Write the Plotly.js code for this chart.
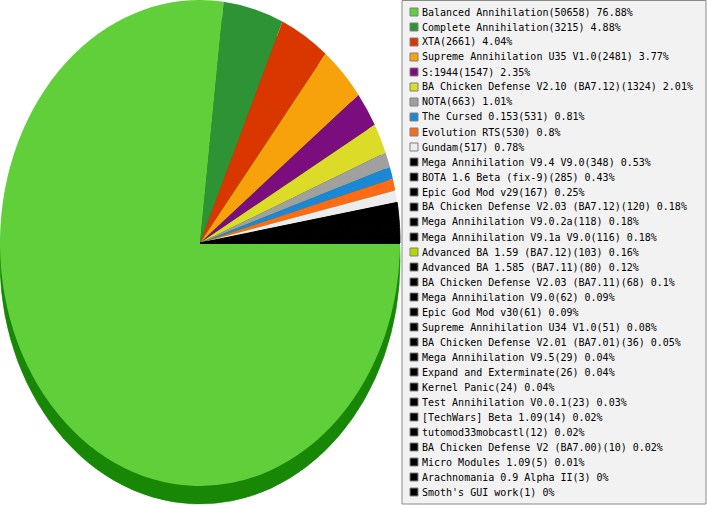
<!DOCTYPE html>
<html>
<head>
<meta charset="utf-8">
<script src="https://cdn.plot.ly/plotly-3.0.1.min.js"></script>
<style>html,body{margin:0;padding:0;background:#fff;}#chart{width:707px;height:505px;}</style>
</head>
<body>
<div id="chart"></div>
<script>
// ---- data ----
const modNames = [
  "Balanced Annihilation", "Complete Annihilation", "XTA", "Supreme Annihilation U35 V1.0",
  "S:1944", "BA Chicken Defense V2.10 (BA7.12)", "NOTA", "The Cursed 0.153",
  "Evolution RTS", "Gundam", "Mega Annihilation V9.4 V9.0", "BOTA 1.6 Beta (fix-9)",
  "Epic God Mod v29", "BA Chicken Defense V2.03 (BA7.12)", "Mega Annihilation V9.0.2a",
  "Mega Annihilation V9.1a V9.0", "Advanced BA 1.59 (BA7.12)", "Advanced BA 1.585 (BA7.11)",
  "BA Chicken Defense V2.03 (BA7.11)", "Mega Annihilation V9.0", "Epic God Mod v30",
  "Supreme Annihilation U34 V1.0", "BA Chicken Defense V2.01 (BA7.01)", "Mega Annihilation V9.5",
  "Expand and Exterminate", "Kernel Panic", "Test Annihilation V0.0.1", "[TechWars] Beta 1.09",
  "tutomod33mobcastl", "BA Chicken Defense V2 (BA7.00)", "Micro Modules 1.09",
  "Arachnomania 0.9 Alpha II", "Smoth's GUI work"
];
const gameCounts = [
  50658, 3215, 2661, 2481, 1547, 1324, 663, 531, 530, 517, 348, 285, 167, 120, 118, 116,
  103, 80, 68, 62, 61, 51, 36, 29, 26, 24, 23, 14, 12, 10, 5, 3, 1
];
const legendColors = [
  "#61cf3a", "#2e9335", "#da3700", "#f8a20b", "#7c0d7f", "#dcdc28", "#a0a0a0", "#1b88d7",
  "#ff6b14", "#ececec", "#000000", "#000000", "#000000", "#000000", "#000000", "#000000",
  "#b5d900", "#000000", "#000000", "#000000", "#000000", "#000000", "#000000", "#000000",
  "#000000", "#000000", "#000000", "#000000", "#000000", "#000000", "#000000", "#000000", "#000000"
];
const namedSliceCount = 10;      // slices after this are drawn as one black band
const otherColor = "#000000";
const rimColor = "#178705";

// ---- layout helpers (pixel geometry) ----
const W = 707, H = 505;
const pieCx = 200, pieCy = 243, pieR = 200, yScale = 243 / 200, rimShift = 14.8;
const px = v => v / W;
const py = v => 1 - v / H;

const total = gameCounts.reduce((a, b) => a + b, 0);
const pctText = gameCounts.map(v => (Math.round(v / total * 10000) / 100) + "%");
const pieColors = legendColors.map((c, i) => i < namedSliceCount ? c : otherColor);

const rimTrace = {
  type: "pie", values: gameCounts, labels: modNames, sort: false,
  direction: "clockwise", rotation: 90, textinfo: "none", hoverinfo: "skip",
  marker: {colors: modNames.map(() => rimColor), line: {color: rimColor, width: 0.6}},
  domain: {x: [px(pieCx - pieR), px(pieCx + pieR)],
           y: [py(pieCy + rimShift + pieR), py(pieCy + rimShift - pieR)]},
  showlegend: false
};
const topTrace = {
  type: "pie", values: gameCounts, labels: modNames, sort: false,
  direction: "clockwise", rotation: 90, textinfo: "none",
  hoverinfo: "label+value+percent",
  marker: {colors: pieColors,
           line: {color: pieColors.map((c, i) => i < namedSliceCount ? "rgba(0,0,0,0)" : otherColor),
                  width: pieColors.map((c, i) => i < namedSliceCount ? 0 : 0.8)}},
  domain: {x: [px(pieCx - pieR), px(pieCx + pieR)],
           y: [py(pieCy + pieR), py(pieCy - pieR)]},
  showlegend: false
};

// legend built from the data arrays
const rowTop = 12, rowGap = 15, boxL = 402, sqL = 410, sqSize = 8, textL = 420;
const shapes = [{
  type: "rect", xref: "paper", yref: "paper",
  x0: px(boxL), x1: px(706), y0: py(504), y1: py(0.5),
  fillcolor: "#f2f2f2", line: {color: "#8a8a8a", width: 1}
}];
const annotations = [];
modNames.forEach((name, i) => {
  const cy = rowTop + rowGap * i;
  shapes.push({
    type: "rect", xref: "paper", yref: "paper",
    x0: px(sqL), x1: px(sqL + sqSize), y0: py(cy + sqSize / 2), y1: py(cy - sqSize / 2),
    fillcolor: legendColors[i], line: {color: "#808080", width: 1}
  });
  annotations.push({
    xref: "paper", yref: "paper", x: px(textL), y: py(cy),
    xanchor: "left", yanchor: "middle", showarrow: false,
    text: name + "(" + gameCounts[i] + ") " + pctText[i],
    font: {family: "DejaVu Sans Mono, monospace", size: 10, color: "#000"}
  });
});

const layout = {
  width: W, height: H,
  margin: {l: 0, r: 0, t: 0, b: 0, pad: 0},
  paper_bgcolor: "#ffffff", plot_bgcolor: "#ffffff",
  showlegend: false,
  shapes: shapes, annotations: annotations
};

Plotly.newPlot("chart", [rimTrace, topTrace], layout, {displayModeBar: false, staticPlot: true})
  .then(() => {
    const layer = document.querySelector("#chart g.pielayer");
    if (layer) {
      layer.setAttribute("transform",
        "translate(0," + pieCy + ") scale(1," + yScale + ") translate(0," + (-pieCy) + ")");
    }
  });
</script>
</body>
</html>
